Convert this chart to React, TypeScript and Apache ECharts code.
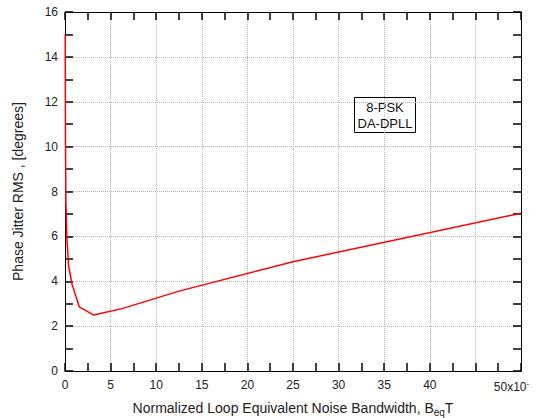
import React, { useEffect, useRef } from 'react';
import * as echarts from 'echarts';

// Normalized loop equivalent noise bandwidth (x10^-3)
const bandwidth = [0.0244, 0.0488, 0.0977, 0.1953, 0.3906, 0.78125, 1.5625, 3.125, 6.25, 12.5, 25, 50];
// Phase jitter RMS [degrees]
const jitter = [15.0, 10.5, 7.5, 6.0, 4.7, 3.85, 2.86, 2.5, 2.78, 3.56, 4.87, 7.03];

const xMin = 0;
const xMax = 50;
const xStep = 5;
const yMin = 0;
const yMax = 16;
const yStep = 2;
const hiddenXLabels = [45];
const boxLines = ['8-PSK', 'DA-DPLL'];

const FONT = '"Liberation Sans", Arial, Helvetica, sans-serif';

export default function App() {
  const ref = useRef<HTMLDivElement>(null);

  useEffect(() => {
    if (!ref.current) return;
    const chart = echarts.init(ref.current, undefined, { renderer: 'svg' });

    const tickCommon = {
      axisLine: { show: true, onZero: false, lineStyle: { color: '#000', width: 1 } },
      axisTick: { show: true, inside: true, length: 8, lineStyle: { color: '#000', width: 1.5 } },
      minorTick: { show: true, splitNumber: 2, length: 8, lineStyle: { color: '#000', width: 1.5 } },
    };

    const option: any = {
      animation: false,
      backgroundColor: '#fff',
      textStyle: { fontFamily: FONT },
      grid: { left: 65, right: 15, top: 12, bottom: 47, show: false, containLabel: false, outerBoundsMode: 'none' },
      xAxis: [
        {
          type: 'value',
          min: xMin,
          max: xMax,
          interval: xStep,
          position: 'bottom',
          ...tickCommon,
          splitLine: { show: true, lineStyle: { color: '#b5b5b5', type: 'dotted', width: 1 } },
          axisLabel: {
            color: '#222',
            fontSize: 12,
            fontFamily: FONT,
            margin: 8,
            formatter: (v: number) => {
              if (hiddenXLabels.includes(v)) return '';
              if (v === xMax) return '{m|' + v + 'x10}{p|-}{g|}';
              return String(v);
            },
            rich: {
              m: { fontSize: 12, fontFamily: FONT, color: '#222' },
              p: { fontSize: 8, fontFamily: FONT, color: '#222', padding: [0, 0, 8, 0] },
              g: { width: 19 },
            },
          },
          name: '{n|Normalized Loop Equivalent Noise Bandwidth, B}{s|eq}{n|T}',
          nameLocation: 'middle',
          nameGap: 28,
          nameTextStyle: {
            rich: {
              n: { fontSize: 14, fontFamily: FONT, color: '#222' },
              s: { fontSize: 10, fontFamily: FONT, color: '#222', padding: [8, 0, 0, 0] },
            },
          },
        },
        {
          type: 'value',
          min: xMin,
          max: xMax,
          interval: xStep,
          position: 'top',
          ...tickCommon,
          splitLine: { show: false },
          axisLabel: { show: false },
        },
      ],
      yAxis: [
        {
          type: 'value',
          min: yMin,
          max: yMax,
          interval: yStep,
          position: 'left',
          ...tickCommon,
          splitLine: { show: true, lineStyle: { color: '#b5b5b5', type: 'dotted', width: 1 } },
          axisLabel: { color: '#222', fontSize: 12, fontFamily: FONT, margin: 7 },
          name: 'Phase Jitter RMS , [degrees]',
          nameLocation: 'middle',
          nameGap: 40,
          nameTextStyle: { fontSize: 14, fontFamily: FONT, color: '#222' },
        },
        {
          type: 'value',
          min: yMin,
          max: yMax,
          interval: yStep,
          position: 'right',
          ...tickCommon,
          splitLine: { show: false },
          axisLabel: { show: false },
        },
      ],
      series: [
        {
          type: 'line',
          data: bandwidth.map((x, i) => [x, jitter[i]]),
          showSymbol: false,
          symbol: 'none',
          lineStyle: { color: '#ff0000', width: 1.5 },
          z: 5,
        },
      ],
      graphic: [
        {
          type: 'group',
          left: 354,
          top: 97,
          z: 100,
          children: [
            {
              type: 'rect',
              shape: { x: 0, y: 0, width: 61, height: 35 },
              style: { fill: '#fff', stroke: '#000', lineWidth: 1 },
            },
            {
              type: 'text',
              x: 30.5,
              y: 17.5,
              style: {
                text: boxLines.join('\n'),
                fontSize: 13,
                lineHeight: 16,
                fontFamily: FONT,
                fill: '#111',
                align: 'center',
                verticalAlign: 'middle',
              },
            },
          ],
        },
      ],
    };

    chart.setOption(option);
    return () => chart.dispose();
  }, []);

  return (
    <div
      ref={ref}
      style={{ position: 'absolute', left: 0, top: 0, width: 536, height: 418 }}
    />
  );
}
